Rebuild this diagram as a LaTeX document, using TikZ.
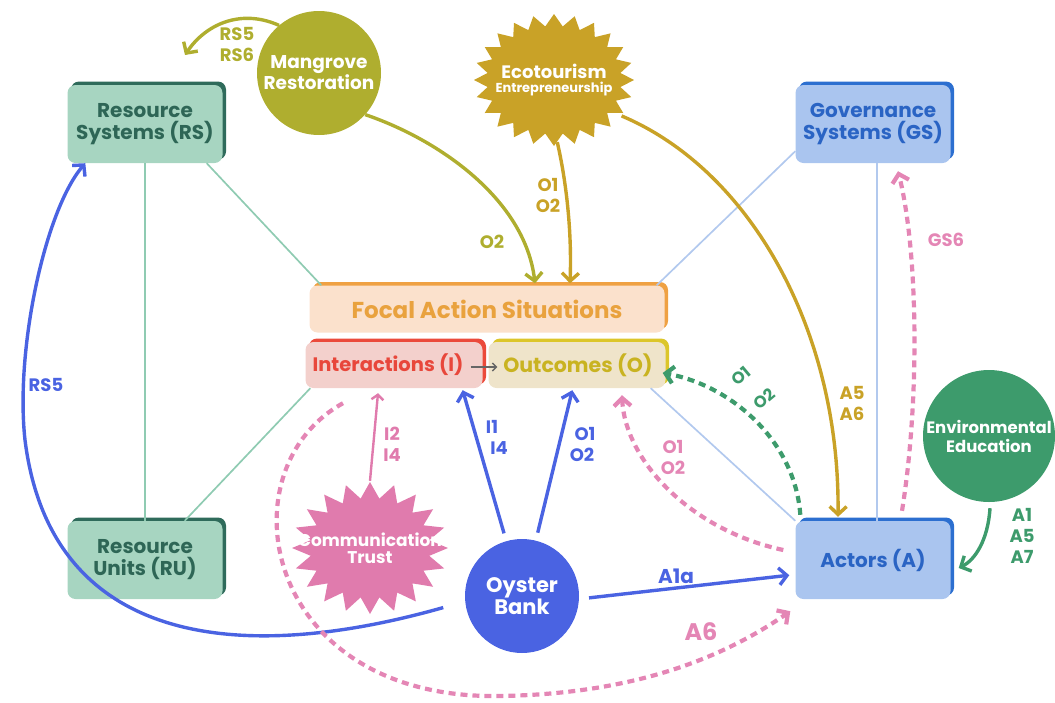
\documentclass[tikz,border=0pt]{standalone}
\usepackage{fontspec}
\setmainfont{Poppins}
\usetikzlibrary{arrows.meta,shapes.geometric,calc}
\definecolor{rsfill}{HTML}{A7D5C1}
\definecolor{rsdark}{HTML}{2F6B5B}
\definecolor{rstext}{HTML}{2E6656}
\definecolor{gsfill}{HTML}{AAC5EF}
\definecolor{gsdark}{HTML}{2C6FD0}
\definecolor{gstext}{HTML}{2A64C4}
\definecolor{focfill}{HTML}{FBE1CC}
\definecolor{focdark}{HTML}{EFA143}
\definecolor{foctext}{HTML}{E9A23E}
\definecolor{intfill}{HTML}{F3D0CC}
\definecolor{intdark}{HTML}{EB4A3B}
\definecolor{inttext}{HTML}{E8473B}
\definecolor{outfill}{HTML}{EFE4CA}
\definecolor{outdark}{HTML}{DCC62A}
\definecolor{outtext}{HTML}{C9B321}
\definecolor{mangcol}{HTML}{AFAE2F}
\definecolor{ecocol}{HTML}{C9A227}
\definecolor{envcol}{HTML}{3D9B6C}
\definecolor{commcol}{HTML}{E07BAD}
\definecolor{oyscol}{HTML}{4A63E2}
\definecolor{pinkd}{HTML}{E486B5}
\definecolor{thingreen}{HTML}{8FCBB2}
\definecolor{thinblue}{HTML}{B2C9EE}
\newcommand\drawstar[9]{%
  \fill[#9] plot[samples at={0,...,#7}] ({#1+(mod(\x,2)==0?#3:#5)*cos(\x*#8)},{#2+(mod(\x,2)==0?#4:#6)*sin(\x*#8)}) -- cycle;}
\begin{document}
\begin{tikzpicture}[x=1pt,y=-1pt,
  bx/.style n args={3}{fill=#1, rounded corners=8pt, text=#3,
    preaction={fill=#2, transform canvas={shift={(3.5pt,3.5pt)}}},
    align=center, font=\bfseries\fontsize{20}{22}\selectfont,
    minimum width=155pt, minimum height=78pt, inner sep=0pt},
  lbl/.style={font=\bfseries\fontsize{18}{21}\selectfont, align=center, inner sep=0pt},
  barb/.style={-{Straight Barb[length=8pt,width=17pt]}},
  solidarr/.style={line width=3.4pt, barb},
  dasharr/.style={line width=4.2pt, dash pattern=on 7pt off 5pt, barb},
  thin/.style={line width=1.7pt},
]
\useasboundingbox (0,0) rectangle (1055,702);
% boxes
\node[bx={rsfill}{rsdark}{rstext}] (rs) at (145,124) {Resource\\Systems (RS)};
\node[bx={rsfill}{rsdark}{rstext}] (ru) at (145,560) {Resource\\Units (RU)};
\node[bx={gsfill}{gsdark}{gstext}] (gs) at (873,124) {Governance\\Systems (GS)};
\node[bx={gsfill}{gsdark}{gstext}] (act) at (873,560) {Actors (A)};
\node[bx={focfill}{focdark}{foctext}, minimum width=355pt, minimum height=47pt, font=\bfseries\fontsize{23}{25}\selectfont] (focal) at (487,309) {Focal Action Situations};
\node[bx={intfill}{intdark}{inttext}, minimum width=177pt, minimum height=46pt, font=\bfseries\fontsize{19.5}{21}\selectfont] (int) at (394,365) {Interactions (I)\hspace{12pt}};
\node[bx={outfill}{outdark}{outtext}, minimum width=177pt, minimum height=46pt, font=\bfseries\fontsize{20.5}{21}\selectfont] (out) at (577,365) {\hspace{2pt}Outcomes (O)};
% thin connectors
\draw[thin, thingreen] (rs.south) -- (ru.north);
\draw[thin, thingreen] ($(rs.south east)+(-16,0)$) -- ($(focal.north west)+(12,0)$);
\draw[thin, thingreen] ($(ru.north east)+(-38,0)$) -- ($(int.south west)+(5,0)$);
\draw[thin, thinblue] ($(gs.south west)+(0,-12)$) -- ($(focal.north east)+(-8,0)$);
\draw[thin, thinblue] ($(gs.south)+(4,0)$) -- ($(act.north)+(4,0)$);
\draw[thin, thinblue] ($(out.south east)+(-15,0)$) -- (act.north west);
\draw[line width=1.4pt, gray!80!black, -{Straight Barb[length=4pt,width=8pt]}] ($(int.east)+(-12,2)$) -- ($(out.west)+(9,2)$);
% circles and stars
\node[circle, fill=mangcol, minimum size=124pt, inner sep=0pt, text=white, align=center, font=\bfseries\fontsize{18.5}{19.5}\selectfont] (mang) at (319,73) {Mangrove\\Restoration};
\drawstar{554}{80}{80}{66}{67}{54}{47}{7.5}{ecocol}
\node[ellipse, minimum width=150pt, minimum height=124pt, inner sep=0pt, text=white, align=center] (eco) at (554,80) {{\bfseries\fontsize{18}{18}\selectfont Ecotourism}\\[2pt]{\bfseries\fontsize{13}{13}\selectfont Entrepreneurship}};
\node[circle, fill=envcol, minimum size=132pt, inner sep=0pt, text=white, align=center, font=\bfseries\fontsize{16.5}{19}\selectfont] (env) at (989,436) {Environmental\\Education};
\drawstar{370}{548}{78}{66}{60}{50}{39}{9}{commcol}
\node[ellipse, minimum width=150pt, minimum height=126pt, inner sep=0pt, text=white, align=center, font=\bfseries\fontsize{17}{17}\selectfont] (comm) at (370,548) {Communication\\Trust};
\node[circle, fill=oyscol, minimum size=114pt, inner sep=0pt, text=white, align=center, font=\bfseries\fontsize{21}{22}\selectfont] (oy) at (522,596) {Oyster\\Bank};
\coordinate (rsin) at (185,55);
% olive / gold arrows
\draw[solidarr, mangcol] (mang.130) .. controls (240,8) and (205,25) .. (rsin);
\node[lbl, text=mangcol] at (237,44) {RS5\\RS6};
\draw[solidarr, mangcol] (mang.-42) .. controls (440,140) and (525,200) .. ($(focal.north)+(48,-2)$);
\node[lbl, text=mangcol] at (492,242) {O2};
\draw[solidarr, ecocol] (eco.-87) .. controls (566,180) and (572,230) .. ($(focal.north)+(83,-2)$);
\node[lbl, text=ecocol] at (548,195) {O1\\O2};
\draw[solidarr, ecocol] (eco.-28) .. controls (750,170) and (840,330) .. ($(act.north)+(-35,-4)$);
\node[lbl, text=ecocol] at (852,403) {A5\\A6};
% blue arrows from oyster bank
\draw[solidarr, oyscol] ($(oy.200)+(-25,-8)$) .. controls (230,668) and (50,640) .. (25,440) .. controls (15,350) and (45,210) .. ($(rs.south west)+(18,0)$);
\node[lbl, text=oyscol] at (46,385) {RS5};
\draw[solidarr, oyscol, shorten <=8pt] (oy.106) -- ($(int.south east)+(-20,2)$);
\node[lbl, text=oyscol] at (492,427) {I1};
\node[lbl, text=oyscol] at (499,448) {I4};
\draw[solidarr, oyscol, shorten <=8pt] (oy.76) -- ($(out.south west)+(84,2)$);
\node[lbl, text=oyscol] at (585,434) {O1};
\node[lbl, text=oyscol] at (582,455) {O2};
\draw[solidarr, oyscol, shorten <=10pt] (oy.-3) -- ($(act.south west)+(-6,-24)$);
\node[lbl, text=oyscol, font=\bfseries\fontsize{20}{21}\selectfont] at (676,576) {A1a};
% communication
\draw[line width=2.4pt, commcol, -{Straight Barb[length=5pt,width=12pt]}] ($(comm.north)+(0,-4)$) -- ($(int.south)+(-16,5)$);
\node[lbl, text=commcol] at (392,444) {I2\\I4};
% pink dashed
\draw[dasharr, pinkd] ($(int.south)+(-51,15)$) .. controls (222,470) and (262,700) .. (500,696) .. controls (630,694) and (720,660) .. ($(act.south west)+(-5,12)$);
\node[lbl, text=pinkd, font=\bfseries\fontsize{24}{25}\selectfont] at (701,632) {A6};
\draw[dasharr, pinkd] ($(act.west)+(-12,-10)$) .. controls (690,530) and (625,460) .. ($(out.south)+(45,7)$);
\node[lbl, text=pinkd] at (673,457) {O1\\O2};
\draw[dasharr, pinkd] ($(act.north)+(29,-10)$) .. controls (920,400) and (918,250) .. ($(gs.south)+(25,8)$);
\node[lbl, text=pinkd] at (946,240) {GS6};
% green dashed
\draw[dasharr, envcol] ($(act.north west)+(5,-6)$) .. controls (795,440) and (730,385) .. ($(out.east)+(-3,8)$);
\node[lbl, text=envcol, rotate=40, font=\bfseries\fontsize{16.5}{18}\selectfont] at (741,376) {O1};
\node[lbl, text=envcol, rotate=40, font=\bfseries\fontsize{16.5}{18}\selectfont] at (764,399) {O2};
% environmental education
\draw[solidarr, envcol] ($(env.south)+(1,6)$) .. controls (988,540) and (975,560) .. ($(act.east)+(8,8)$);
\node[lbl, text=envcol] at (1022,536) {A1\\A5\\A7};
\end{tikzpicture}
\end{document}
